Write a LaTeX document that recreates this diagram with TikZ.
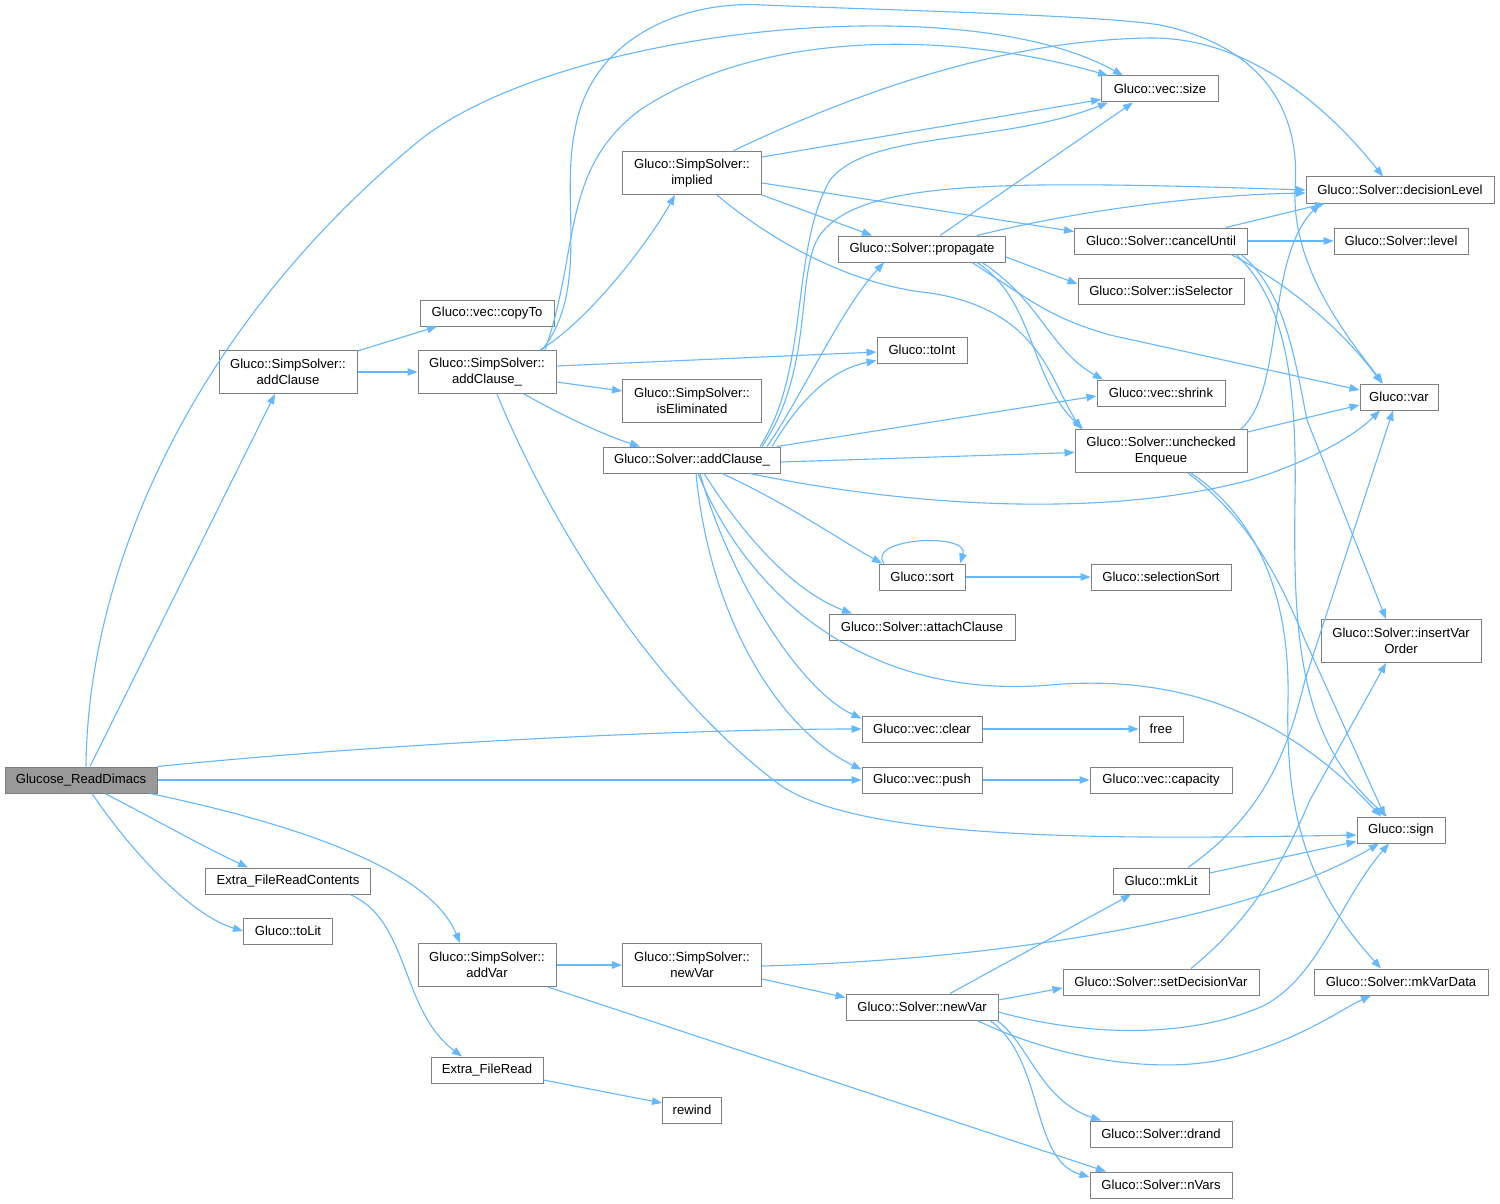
\documentclass[tikz,border=0pt]{standalone}
\usepackage{fontspec}
\setmainfont{Liberation Sans}
\usetikzlibrary{arrows.meta}
\definecolor{edgec}{HTML}{63B8FF}
\definecolor{bordc}{HTML}{7F7F7F}
\definecolor{rootc}{HTML}{999999}
\tikzset{
  fn/.style={draw=bordc, line width=1pt, fill=white, inner sep=0pt, align=center,
    font={\fontsize{13.1pt}{16pt}\selectfont}, minimum height=26pt},
  two/.style={minimum height=43pt},
  e/.style={draw=edgec, line width=1.1pt, -{Triangle[length=10pt,width=7.5pt]}},
}
\begin{document}
\begin{tikzpicture}[x=1pt,y=-1pt]
\fill[white] (0,0) rectangle (1500,1204);
\useasboundingbox (0,0) rectangle (1500,1204);

% nodes
\node[fn, fill=rootc, minimum width=152pt] (G) at (81,780) {Glucose\_ReadDimacs};
\node[fn, two, minimum width=138pt] (ASA) at (288,372) {Gluco::SimpSolver::\\addClause};
\node[fn, minimum width=134pt] (copyTo) at (487,313) {Gluco::vec::copyTo};
\node[fn, two, minimum width=138pt] (ASAu) at (487,372) {Gluco::SimpSolver::\\addClause\_};
\node[fn, two, minimum width=139pt] (implied) at (692,173) {Gluco::SimpSolver::\\implied};
\node[fn, two, minimum width=139pt] (isElim) at (692,401) {Gluco::SimpSolver::\\isEliminated};
\node[fn, minimum width=177pt] (SaddC) at (692,460) {Gluco::Solver::addClause\_};
\node[fn, minimum width=117pt] (size) at (1160,89) {Gluco::vec::size};
\node[fn, minimum width=188pt] (decLvl) at (1400,190) {Gluco::Solver::decisionLevel};
\node[fn, minimum width=167pt] (propagate) at (922,249) {Gluco::Solver::propagate};
\node[fn, minimum width=173pt] (cancelUntil) at (1161,241) {Gluco::Solver::cancelUntil};
\node[fn, minimum width=134pt] (level) at (1401,241) {Gluco::Solver::level};
\node[fn, minimum width=166pt] (isSelector) at (1161,291) {Gluco::Solver::isSelector};
\node[fn, minimum width=90pt] (toInt) at (922,350) {Gluco::toInt};
\node[fn, minimum width=128pt] (shrink) at (1161,393) {Gluco::vec::shrink};
\node[fn, minimum width=78pt] (var) at (1399,397) {Gluco::var};
\node[fn, two, minimum width=172pt] (unchecked) at (1161,451) {Gluco::Solver::unchecked\\Enqueue};
\node[fn, minimum width=86pt] (sort) at (922,577) {Gluco::sort};
\node[fn, minimum width=140pt] (selSort) at (1161,577) {Gluco::selectionSort};
\node[fn, minimum width=186pt] (attach) at (922,627) {Gluco::Solver::attachClause};
\node[fn, two, minimum width=160pt] (insertVar) at (1401,641) {Gluco::Solver::insertVar\\Order};
\node[fn, minimum width=120pt] (clear) at (922,729) {Gluco::vec::clear};
\node[fn, minimum width=44pt] (free) at (1161,729) {free};
\node[fn, minimum width=120pt] (push) at (922,780) {Gluco::vec::push};
\node[fn, minimum width=142pt] (capacity) at (1161,780) {Gluco::vec::capacity};
\node[fn, minimum width=88pt] (sign) at (1401,830) {Gluco::sign};
\node[fn, minimum width=96pt] (mkLit) at (1161,881) {Gluco::mkLit};
\node[fn, minimum width=165pt] (EFRC) at (288,881) {Extra\_FileReadContents};
\node[fn, minimum width=89pt] (toLit) at (288,931) {Gluco::toLit};
\node[fn, two, minimum width=138pt] (addVar) at (487,965) {Gluco::SimpSolver::\\addVar};
\node[fn, two, minimum width=139pt] (newVarS) at (692,965) {Gluco::SimpSolver::\\newVar};
\node[fn, minimum width=196pt] (setDec) at (1161,982) {Gluco::Solver::setDecisionVar};
\node[fn, minimum width=174pt] (mkVarData) at (1401,982) {Gluco::Solver::mkVarData};
\node[fn, minimum width=152pt] (newVar) at (922,1007) {Gluco::Solver::newVar};
\node[fn, minimum width=112pt] (EFR) at (487,1070) {Extra\_FileRead};
\node[fn, minimum width=59pt] (rewind) at (692,1110) {rewind};
\node[fn, minimum width=142pt] (drand) at (1161,1134) {Gluco::Solver::drand};
\node[fn, minimum width=142pt] (nVars) at (1161,1185) {Gluco::Solver::nVars};

% edges from Glucose_ReadDimacs
\draw[e] ([xshift=5pt]G.north) .. controls (88,560) and (200,320) .. (420,140) .. controls (560,30) and (960,-15) .. ([xshift=-37pt]size.north);
\draw[e] ([xshift=9pt]G.north) -- ([xshift=-13pt]ASA.south);
\draw[e] (G.north east) .. controls (400,742) and (700,729) .. (clear.west);
\draw[e] (G.east) -- (push.west);
\draw[e] ([xshift=24pt]G.south) .. controls (160,822) and (200,845) .. ([xshift=-40pt]EFRC.north);
\draw[e] ([xshift=11pt]G.south) .. controls (130,850) and (190,915) .. (toLit.west);
\draw[e] ([xshift=69pt]G.south) .. controls (300,825) and (430,870) .. ([xshift=-27pt]addVar.north);

% SimpSolver::addClause
\draw[e] ([yshift=-1pt]ASA.north east) -- ([xshift=-50pt]copyTo.south);
\draw[e] (ASA.east) -- (ASAu.west);

% SimpSolver::addClause_
\draw[e] ([xshift=53pt]ASAu.north) .. controls (590,320) and (650,240) .. ([xshift=-17pt]implied.south);
\draw[e] ([xshift=58pt]ASAu.north) .. controls (580,250) and (560,170) .. (640,110) .. controls (760,30) and (950,30) .. ([xshift=-52pt]size.north);
\draw[e] ([xshift=55pt]ASAu.north) .. controls (590,290) and (560,200) .. (575,130) .. controls (590,40) and (680,0) .. (763,5) .. controls (880,10) and (1100,15) .. (1160,25) .. controls (1280,50) and (1300,130) .. (1295,190) .. controls (1292,270) and (1350,340) .. ([xshift=-16pt]var.north);
\draw[e] ([yshift=6pt]ASAu.east) -- ([yshift=-2pt]toInt.west);
\draw[e] ([yshift=-10pt]ASAu.east) -- ([yshift=10pt]isElim.west);
\draw[e] ([xshift=37pt]ASAu.south) .. controls (570,420) and (610,437) .. ([xshift=-52pt]SaddC.north);
\draw[e] ([xshift=10pt]ASAu.south) .. controls (540,500) and (640,680) .. (780,785) .. controls (860,840) and (1100,840) .. ([yshift=-5pt]sign.west);

% implied
\draw[e] ([yshift=16pt]implied.east) -- ([yshift=3pt]size.south west);
\draw[e] ([yshift=-10pt]implied.east) -- ([yshift=-4pt]cancelUntil.north west);
\draw[e] (implied.south east) -- ([xshift=-50pt]propagate.north);
\draw[e] ([xshift=25pt]implied.south) .. controls (770,240) and (850,285) .. (930,293) .. controls (1040,310) and (1050,380) .. ([xshift=-80pt]unchecked.north);
\draw[e] ([xshift=41pt]implied.north) .. controls (850,95) and (1000,40) .. (1150,38) .. controls (1250,37) and (1330,110) .. ([xshift=-17pt]decLvl.north);

% Solver::addClause_
\draw[e] ([xshift=68pt]SaddC.north) .. controls (810,370) and (790,250) .. (830,180) .. controls (870,130) and (1000,145) .. ([xshift=-52pt]size.south);
\draw[e] ([xshift=70pt]SaddC.north) .. controls (815,370) and (795,270) .. (820,235) .. controls (860,180) and (1000,180) .. (decLvl.west);
\draw[e] ([xshift=75pt]SaddC.north) .. controls (800,400) and (840,310) .. ([xshift=-38pt]propagate.south);
\draw[e] ([xshift=80pt]SaddC.north) .. controls (800,400) and (830,370) .. ([yshift=3pt]toInt.south west);
\draw[e] ([xshift=85pt]SaddC.north) -- ([yshift=-3pt]shrink.west);
\draw[e] ([yshift=-2pt]SaddC.east) -- ([yshift=-1.5pt]unchecked.west);
\draw[e] ([xshift=58pt]SaddC.south) .. controls (900,505) and (1100,520) .. (1250,480) .. controls (1300,465) and (1350,440) .. ([xshift=-19pt]var.south);
\draw[e] ([xshift=30pt]SaddC.south) .. controls (790,505) and (840,540) .. ([xshift=-40pt]sort.north);
\draw[e] ([xshift=12pt]SaddC.south) .. controls (740,530) and (790,590) .. ([xshift=-70pt]attach.north);
\draw[e] ([xshift=8pt]SaddC.south) .. controls (730,580) and (800,690) .. ([yshift=-3pt]clear.north west);
\draw[e] ([xshift=4pt]SaddC.south) .. controls (710,620) and (780,730) .. ([yshift=-3pt]push.north west);
\draw[e] ([xshift=6pt]SaddC.south) .. controls (750,600) and (870,700) .. (1050,685) .. controls (1200,672) and (1300,730) .. ([xshift=-20pt]sign.north);

% propagate
\draw[e] ([xshift=18pt]propagate.north) -- ([xshift=-27pt]size.south);
\draw[e] ([xshift=55pt]propagate.north) .. controls (1080,210) and (1200,195) .. ([yshift=-3pt]decLvl.west);
\draw[e] ([yshift=-8pt]propagate.east) -- ([yshift=7pt]isSelector.west);
\draw[e] ([xshift=50pt]propagate.south) .. controls (1030,300) and (1050,318) .. (1110,335) -- ([yshift=7pt]var.west);
\draw[e] ([xshift=60pt]propagate.south) .. controls (1040,300) and (1050,350) .. ([xshift=-58pt]shrink.north);
\draw[e] ([xshift=55pt]propagate.south) .. controls (1035,300) and (1030,380) .. ([xshift=-78pt]unchecked.north);

% cancelUntil
\draw[e] ([xshift=65pt]cancelUntil.north) -- ([xshift=-75pt]decLvl.south);
\draw[e] (cancelUntil.east) -- (level.west);
\draw[e] ([xshift=70pt]cancelUntil.south) .. controls (1300,290) and (1350,340) .. ([xshift=-17pt]var.north);
\draw[e] ([xshift=80pt]cancelUntil.south) .. controls (1285,290) and (1295,360) .. (1307,420) -- ([xshift=-15pt]insertVar.north);
\draw[e] ([xshift=75pt]cancelUntil.south) .. controls (1285,300) and (1297,380) .. (1295,500) .. controls (1293,640) and (1300,740) .. ([xshift=-14pt]sign.north);

% uncheckedEnqueue
\draw[e] ([yshift=19pt]unchecked.east) -- ([yshift=-8pt]var.west);
\draw[e] ([xshift=80pt]unchecked.north) .. controls (1285,390) and (1265,260) .. ([xshift=-80pt]decLvl.south);
\draw[e] ([xshift=27pt]unchecked.south) .. controls (1250,520) and (1280,580) .. (1305,640) -- ([xshift=-16pt]sign.north);
\draw[e] ([xshift=30pt]unchecked.south) .. controls (1260,520) and (1290,600) .. (1288,700) .. controls (1285,820) and (1310,890) .. ([xshift=-20pt]mkVarData.north);

% small ones
\draw[e] (sort.east) -- (selSort.west);
\draw[e] ([xshift=-38pt]sort.north) .. controls (865,538) and (970,532) .. ([xshift=38pt]sort.north);
\draw[e] (clear.east) -- (free.west);
\draw[e] (push.east) -- (capacity.west);

% mkLit, setDecisionVar
\draw[e] ([yshift=8pt]mkLit.east) -- ([yshift=2pt]sign.south west);
\draw[e] ([xshift=27pt]mkLit.north) .. controls (1270,810) and (1290,740) .. (1305,680) -- ([xshift=-6pt]var.south);
\draw[e] ([xshift=30pt]setDec.north) .. controls (1250,920) and (1280,870) .. (1310,800) -- ([xshift=-15pt]insertVar.south);

% Solver::newVar
\draw[e] ([xshift=28pt]newVar.north) -- ([xshift=-30pt]mkLit.south);
\draw[e] ([yshift=7pt]newVar.east) -- ([yshift=-6pt]setDec.west);
\draw[e] ([yshift=-5pt]newVar.east) .. controls (1100,1040) and (1200,1035) .. (1265,1005) .. controls (1320,975) and (1340,900) .. ([xshift=-12pt]sign.south);
\draw[e] ([xshift=55pt]newVar.south) .. controls (1060,1060) and (1160,1075) .. (1230,1058) .. controls (1300,1040) and (1340,1010) .. ([xshift=-30pt]mkVarData.south);
\draw[e] ([xshift=75pt]newVar.south) .. controls (1030,1045) and (1040,1100) .. ([xshift=-60pt]drand.north);
\draw[e] ([xshift=68pt]newVar.south) .. controls (1045,1060) and (1030,1160) .. ([yshift=8pt]nVars.west);

% addVar, SimpSolver::newVar
\draw[e] (addVar.east) -- (newVarS.west);
\draw[e] ([xshift=61pt]addVar.south) -- ([xshift=-55pt]nVars.north);
\draw[e] ([yshift=-14pt]newVarS.east) -- ([yshift=-4pt]newVar.north west);
\draw[e] ([yshift=-1pt]newVarS.east) .. controls (1000,960) and (1250,920) .. ([xshift=-22pt]sign.south);

% file reading
\draw[e] ([xshift=62pt]EFRC.south) .. controls (410,920) and (400,1010) .. ([xshift=-25pt]EFR.north);
\draw[e] ([yshift=-10pt]EFR.east) -- ([yshift=7pt]rewind.west);
\end{tikzpicture}
\end{document}
